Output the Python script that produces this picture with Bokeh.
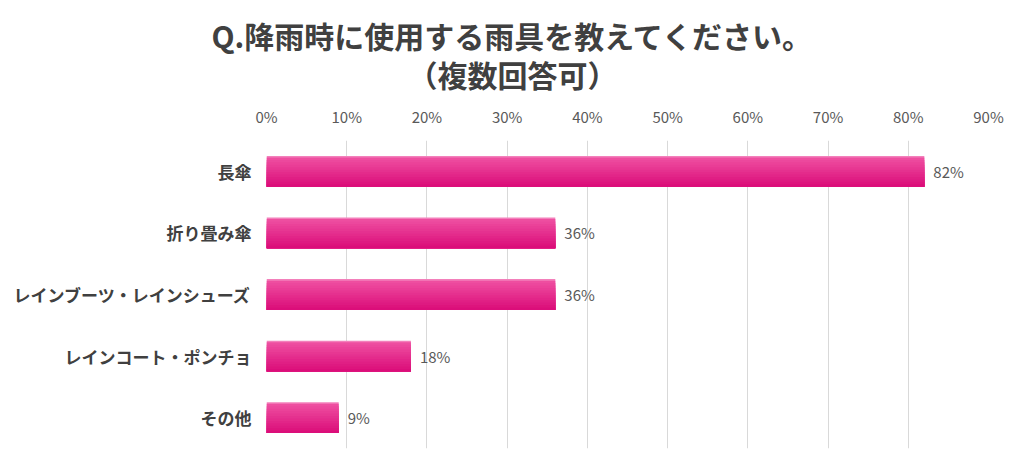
from bokeh.plotting import figure
from bokeh.models import FactorRange, Range1d, NumeralTickFormatter, FixedTicker, Title, ColumnDataSource
from bokeh.transform import dodge
from bokeh.core.properties import value
from bokeh.embed import file_html
from bokeh.resources import INLINE

title_lines = ["Q.降雨時に使用する雨具を教えてください。", "（複数回答可）"]
categories = ["長傘", "折り畳み傘", "レインブーツ・レインシューズ", "レインコート・ポンチョ", "その他"]
values = [0.82, 0.36, 0.36, 0.18, 0.09]
labels = ["82%", "36%", "36%", "18%", "9%"]
ticks = [0.0, 0.1, 0.2, 0.3, 0.4, 0.5, 0.6, 0.7, 0.8, 0.9]

JP = "Noto Sans CJK JP"

p = figure(width=1016, height=463, output_backend="svg", toolbar_location=None,
           y_range=FactorRange(factors=list(reversed(categories))),
           x_range=Range1d(0, 0.9), x_axis_location="above",
           min_border_left=266, min_border_right=28, min_border_top=140, min_border_bottom=15)
p.outline_line_color = None
p.background_fill_color = "white"

src = ColumnDataSource(dict(cat=categories, val=values, lab=labels))

# gradient bar: nested layers sharing the bar bottom, lighter at the top
bar_h = 0.5
p.hbar(y="cat", right="val", left=0, height=bar_h, source=src,
       fill_color="#f380bb", line_color=None)
top = (0xEE, 0x4E, 0xA0)
bot = (0xDB, 0x0E, 0x7A)
n = 12
edge = 0.025
inner = bar_h - edge
sh = inner / n
for i in range(n):
    t = i / (n - 1)
    c = tuple(int(round(top[k] + (bot[k] - top[k]) * t)) for k in range(3))
    col = "#%02x%02x%02x" % c
    h = inner - i * sh
    off = -bar_h / 2 + h / 2
    p.hbar(y=dodge("cat", off, range=p.y_range), right="val", left=0, height=h,
           source=src, fill_color=col, line_color=None)

p.text(x="val", y="cat", text="lab", source=src, x_offset=9, text_baseline="middle",
       text_align="left", text_font=value(JP), text_font_size="15px", text_color="#595959")

xa = p.xaxis[0]
xa.ticker = FixedTicker(ticks=ticks)
xa.formatter = NumeralTickFormatter(format="0%")
xa.axis_line_color = None
xa.major_tick_line_color = None
xa.minor_tick_line_color = None
xa.major_label_text_font = JP
xa.major_label_text_font_size = "15px"
xa.major_label_text_color = "#595959"
xa.major_label_standoff = 8

ya = p.yaxis[0]
ya.axis_line_color = None
ya.major_tick_line_color = None
ya.minor_tick_line_color = None
ya.major_label_text_font = JP
ya.major_label_text_font_size = "17px"
ya.major_label_text_font_style = "bold"
ya.major_label_text_color = "#404040"
ya.major_label_standoff = 9

p.xgrid.grid_line_color = "#d9d9d9"
p.xgrid.ticker = FixedTicker(ticks=ticks)
p.ygrid.grid_line_color = None

t2 = Title(text=title_lines[1], align="left", offset=141, text_font=JP,
           text_font_size="30px", text_font_style="bold", text_color="#404040", standoff=13)
t1 = Title(text=title_lines[0], align="left", offset=-55, text_font=JP,
           text_font_size="30px", text_font_style="bold", text_color="#404040", standoff=-26)
p.add_layout(t2, "above")
p.add_layout(t1, "above")

open("out.html", "w").write(file_html(p, INLINE))
